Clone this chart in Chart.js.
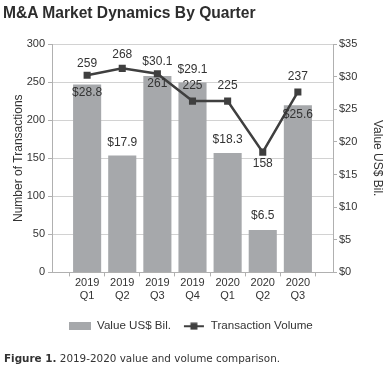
<!DOCTYPE html>
<html><head><meta charset="utf-8">
<script src="https://cdn.jsdelivr.net/npm/chart.js@4/dist/chart.umd.min.js"></script>
<style>
html,body{margin:0;padding:0;background:#fff;}
#wrap{position:relative;width:390px;height:380px;overflow:hidden;}
#c{position:absolute;left:0;top:0;}
#title{position:absolute;left:3px;top:4px;font:bold 15.6px "Liberation Sans",Arial,sans-serif;color:#2d2d2d;white-space:nowrap;}
#caption{position:absolute;left:4px;top:352px;font:10.4px "DejaVu Sans",Verdana,sans-serif;color:#333;white-space:nowrap;}
</style></head><body>
<div id="wrap">
<canvas id="c" width="390" height="380"></canvas>
<div id="title">M&amp;A Market Dynamics By Quarter</div>
<div id="caption"><b>Figure 1.</b> 2019-2020 value and volume comparison.</div>
</div>
<script>
// ---- data ----
const years = ['2019','2019','2019','2019','2020','2020','2020'];
const quarters = ['Q1','Q2','Q3','Q4','Q1','Q2','Q3'];
const valueBil = [28.8, 17.9, 30.1, 29.1, 18.3, 6.5, 25.6];
const transactionVolume = [259, 268, 261, 225, 225, 158, 237];
const seriesNames = ['Value US$ Bil.', 'Transaction Volume'];
const leftAxisTitle = 'Number of Transactions';
const rightAxisTitle = 'Value US$ Bil.';

// ---- styles ----
const barColor = '#a6a8ab';
const lineColor = '#3f3f3f';
const textColor = '#333333';
const gridColor = '#d2d2d2';
const axisColor = '#b0b0b0';
const FONT = '"Liberation Sans", Arial, sans-serif';

// label offsets (px from bar top / point centre)
const barLabelOffsets = [8, -13, -14, -13, -13, -14, 9];
const lineLabelOffsets = [-12, -14, 10, -15, -15, 12, -15];

// padded category axis (empty slot on each side)
const labels = [''].concat(years.map((y, i) => [y, quarters[i]]), ['']);
const pad = arr => [null].concat(arr, [null]);

function legendBox() {
  const c = document.createElement('canvas'); c.width = 22; c.height = 8;
  const g = c.getContext('2d'); g.fillStyle = barColor; g.fillRect(0, 0, 22, 8); return c;
}
function legendLine() {
  const c = document.createElement('canvas'); c.width = 22; c.height = 8;
  const g = c.getContext('2d'); g.strokeStyle = lineColor; g.lineWidth = 2;
  g.beginPath(); g.moveTo(1, 4); g.lineTo(21, 4); g.stroke();
  g.fillStyle = lineColor; g.fillRect(7.5, 0.5, 7, 7); return c;
}
const legendImgs = [legendBox(), legendLine()];

const valueLabels = {
  id: 'valueLabels',
  afterDatasetsDraw(chart) {
    const ctx = chart.ctx;
    ctx.save();
    ctx.font = '12px ' + FONT;
    ctx.fillStyle = textColor;
    ctx.textAlign = 'center';
    ctx.textBaseline = 'middle';
    chart.data.datasets.forEach((ds, di) => {
      const meta = chart.getDatasetMeta(di);
      meta.data.forEach((el, i) => {
        const v = ds.data[i];
        if (v == null) return;
        const k = i - 1;
        if (di === 0) ctx.fillText('$' + v.toFixed(1), el.x, el.y + barLabelOffsets[k]);
        else ctx.fillText(String(v), el.x, el.y + lineLabelOffsets[k]);
      });
    });
    ctx.restore();
  }
};

new Chart(document.getElementById('c'), {
  data: {
    labels: labels,
    datasets: [
      {
        type: 'bar', label: seriesNames[0], data: pad(valueBil), yAxisID: 'yR',
        backgroundColor: barColor, borderWidth: 0, order: 2,
        barPercentage: 0.8, categoryPercentage: 1.0
      },
      {
        type: 'line', label: seriesNames[1], data: pad(transactionVolume), yAxisID: 'yL',
        borderColor: lineColor, backgroundColor: lineColor, borderWidth: 2.5,
        pointStyle: 'rect', pointRadius: 5, pointBackgroundColor: lineColor,
        pointBorderWidth: 0, tension: 0, order: 1
      }
    ]
  },
  options: {
    responsive: false, animation: false, devicePixelRatio: 1,
    layout: { padding: { top: 44, left: 0, right: 8, bottom: 38 } },
    plugins: {
      tooltip: { enabled: false },
      legend: {
        position: 'bottom',
        labels: {
          usePointStyle: true, pointStyleWidth: 22, boxWidth: 22, boxHeight: 8,
          padding: 12, color: textColor, font: { family: FONT, size: 11.6 },
          sort: (a, b) => a.datasetIndex - b.datasetIndex,
          generateLabels(chart) {
            const items = Chart.defaults.plugins.legend.labels.generateLabels(chart);
            items.forEach(it => { it.pointStyle = legendImgs[it.datasetIndex]; it.fontColor = textColor; });
            return items;
          }
        }
      }
    },
    scales: {
      x: {
        type: 'category', offset: false,
        grid: { drawOnChartArea: false, drawTicks: true, tickLength: 4, tickColor: axisColor },
        border: { color: axisColor },
        ticks: { color: textColor, font: { family: FONT, size: 11 }, padding: 0, maxRotation: 0, autoSkip: false },
        afterFit(s) { s.height = 36; }
      },
      yL: {
        position: 'left', min: 0, max: 300,
        ticks: { stepSize: 50, color: textColor, font: { family: FONT, size: 11 }, padding: 3 },
        grid: { color: gridColor, tickColor: axisColor, tickLength: 4 },
        border: { color: axisColor },
        title: { display: true, text: leftAxisTitle, color: textColor, font: { family: FONT, size: 12 }, padding: { top: 11, bottom: 0 } },
        afterFit(s) { s.width = 52; }
      },
      yR: {
        position: 'right', min: 0, max: 35,
        ticks: { stepSize: 5, color: textColor, font: { family: FONT, size: 11 }, padding: 2, callback: v => '$' + v },
        grid: { drawOnChartArea: false, tickColor: axisColor, tickLength: 4 },
        border: { color: axisColor },
        title: { display: true, text: rightAxisTitle, color: textColor, font: { family: FONT, size: 12 }, padding: { top: -3, bottom: 0 } },
        afterFit(s) { s.width = 49; }
      }
    }
  },
  plugins: [valueLabels]
});
</script>
</body></html>
